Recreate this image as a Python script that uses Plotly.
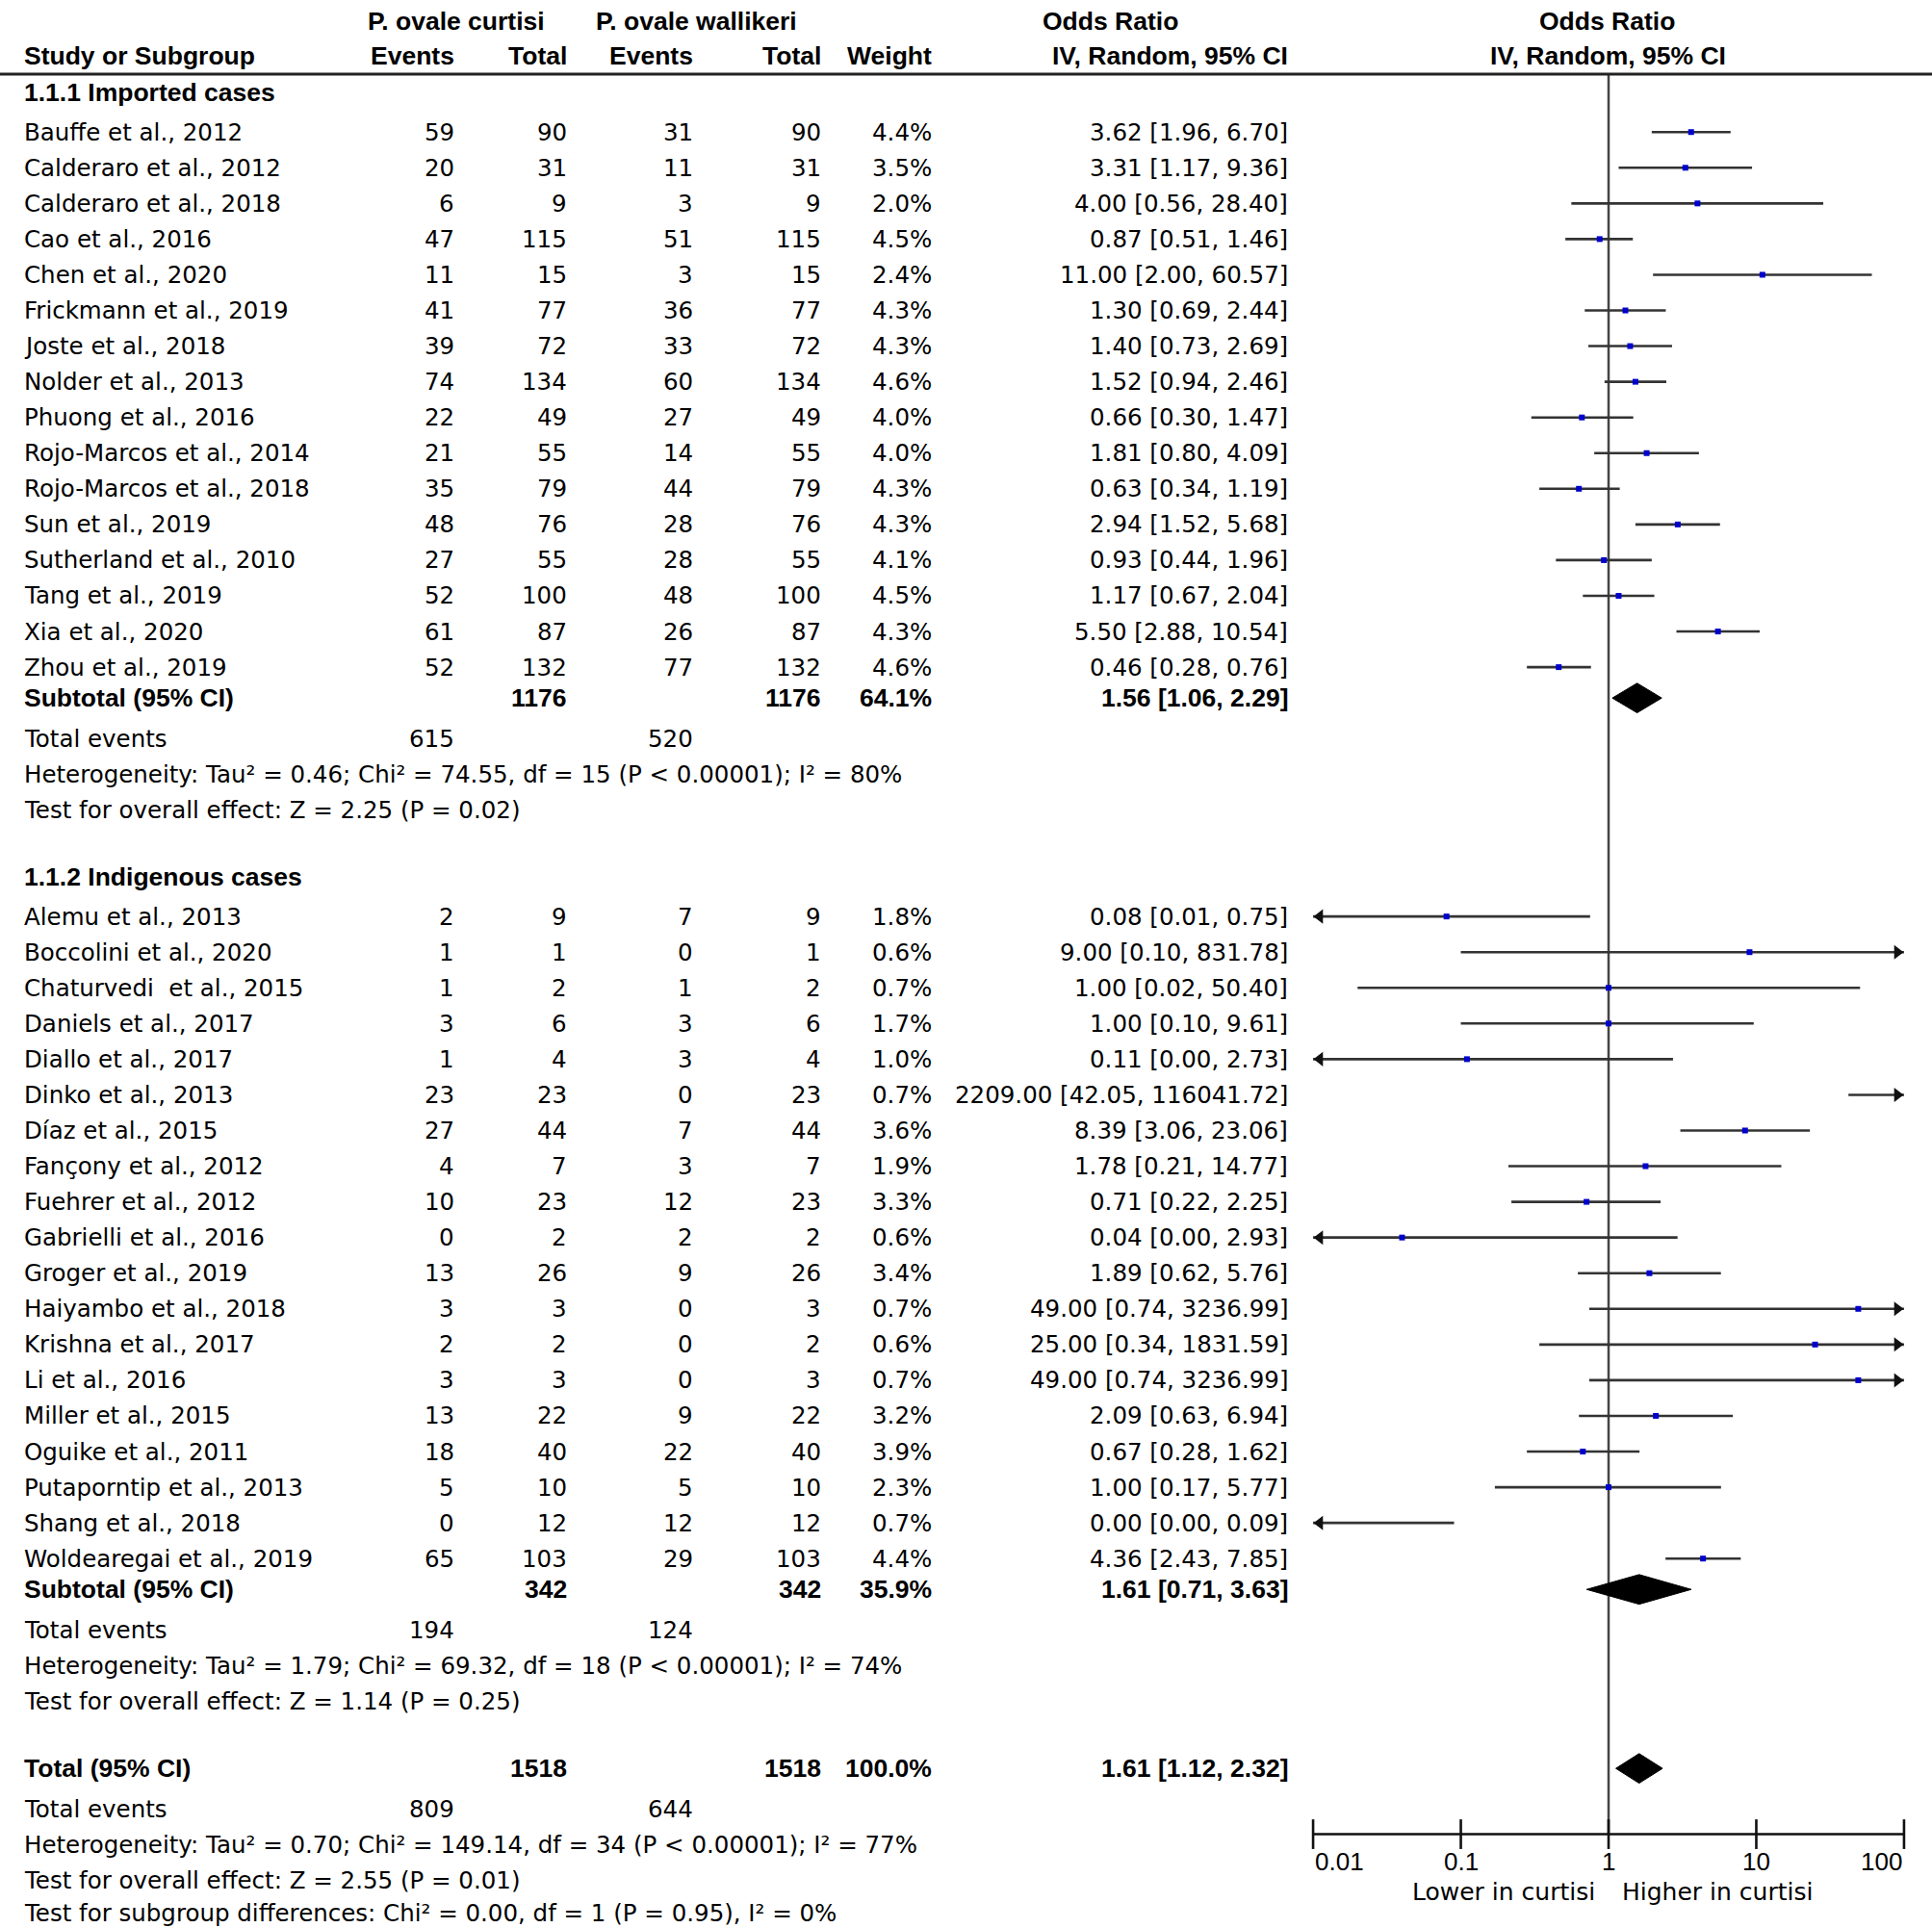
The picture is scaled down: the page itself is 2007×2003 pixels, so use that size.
import plotly.graph_objects as go
import math

# ---------------- data ----------------
studies1 = ["Bauffe et al., 2012", "Calderaro et al., 2012", "Calderaro et al., 2018", "Cao et al., 2016",
            "Chen et al., 2020", "Frickmann et al., 2019", "Joste et al., 2018", "Nolder et al., 2013",
            "Phuong et al., 2016", "Rojo-Marcos et al., 2014", "Rojo-Marcos et al., 2018", "Sun et al., 2019",
            "Sutherland et al., 2010", "Tang et al., 2019", "Xia et al., 2020", "Zhou et al., 2019"]
ev_c1 = [59, 20, 6, 47, 11, 41, 39, 74, 22, 21, 35, 48, 27, 52, 61, 52]
tot_c1 = [90, 31, 9, 115, 15, 77, 72, 134, 49, 55, 79, 76, 55, 100, 87, 132]
ev_w1 = [31, 11, 3, 51, 3, 36, 33, 60, 27, 14, 44, 28, 28, 48, 26, 77]
tot_w1 = [90, 31, 9, 115, 15, 77, 72, 134, 49, 55, 79, 76, 55, 100, 87, 132]
weight1 = [4.4, 3.5, 2.0, 4.5, 2.4, 4.3, 4.3, 4.6, 4.0, 4.0, 4.3, 4.3, 4.1, 4.5, 4.3, 4.6]
or1 = [3.62, 3.31, 4.00, 0.87, 11.00, 1.30, 1.40, 1.52, 0.66, 1.81, 0.63, 2.94, 0.93, 1.17, 5.50, 0.46]
lo1 = [1.96, 1.17, 0.56, 0.51, 2.00, 0.69, 0.73, 0.94, 0.30, 0.80, 0.34, 1.52, 0.44, 0.67, 2.88, 0.28]
hi1 = [6.70, 9.36, 28.40, 1.46, 60.57, 2.44, 2.69, 2.46, 1.47, 4.09, 1.19, 5.68, 1.96, 2.04, 10.54, 0.76]

studies2 = ["Alemu et al., 2013", "Boccolini et al., 2020", "Chaturvedi\u00a0 et al., 2015", "Daniels et al., 2017",
            "Diallo et al., 2017", "Dinko et al., 2013", "Díaz et al., 2015", "Fançony et al., 2012",
            "Fuehrer et al., 2012", "Gabrielli et al., 2016", "Groger et al., 2019", "Haiyambo et al., 2018",
            "Krishna et al., 2017", "Li et al., 2016", "Miller et al., 2015", "Oguike et al., 2011",
            "Putaporntip et al., 2013", "Shang et al., 2018", "Woldearegai et al., 2019"]
ev_c2 = [2, 1, 1, 3, 1, 23, 27, 4, 10, 0, 13, 3, 2, 3, 13, 18, 5, 0, 65]
tot_c2 = [9, 1, 2, 6, 4, 23, 44, 7, 23, 2, 26, 3, 2, 3, 22, 40, 10, 12, 103]
ev_w2 = [7, 0, 1, 3, 3, 0, 7, 3, 12, 2, 9, 0, 0, 0, 9, 22, 5, 12, 29]
tot_w2 = [9, 1, 2, 6, 4, 23, 44, 7, 23, 2, 26, 3, 2, 3, 22, 40, 10, 12, 103]
weight2 = [1.8, 0.6, 0.7, 1.7, 1.0, 0.7, 3.6, 1.9, 3.3, 0.6, 3.4, 0.7, 0.6, 0.7, 3.2, 3.9, 2.3, 0.7, 4.4]
or2 = [0.08, 9.00, 1.00, 1.00, 0.11, 2209.00, 8.39, 1.78, 0.71, 0.04, 1.89, 49.00, 25.00, 49.00, 2.09, 0.67, 1.00, 0.00, 4.36]
lo2 = [0.01, 0.10, 0.02, 0.10, 0.00, 42.05, 3.06, 0.21, 0.22, 0.00, 0.62, 0.74, 0.34, 0.74, 0.63, 0.28, 0.17, 0.00, 2.43]
hi2 = [0.75, 831.78, 50.40, 9.61, 2.73, 116041.72, 23.06, 14.77, 2.25, 2.93, 5.76, 3236.99, 1831.59, 3236.99, 6.94, 1.62, 5.77, 0.09, 7.85]

sub1 = dict(tot_c=1176, tot_w=1176, weight=64.1, orv=1.56, lo=1.06, hi=2.29, ev_c=615, ev_w=520,
            het="Heterogeneity: Tau² = 0.46; Chi² = 74.55, df = 15 (P < 0.00001); I² = 80%",
            test="Test for overall effect: Z = 2.25 (P = 0.02)")
sub2 = dict(tot_c=342, tot_w=342, weight=35.9, orv=1.61, lo=0.71, hi=3.63, ev_c=194, ev_w=124,
            het="Heterogeneity: Tau² = 1.79; Chi² = 69.32, df = 18 (P < 0.00001); I² = 74%",
            test="Test for overall effect: Z = 1.14 (P = 0.25)")
total = dict(tot_c=1518, tot_w=1518, weight=100.0, orv=1.61, lo=1.12, hi=2.32, ev_c=809, ev_w=644,
             het="Heterogeneity: Tau² = 0.70; Chi² = 149.14, df = 34 (P < 0.00001); I² = 77%",
             test="Test for overall effect: Z = 2.55 (P = 0.01)",
             subgroup="Test for subgroup differences: Chi² = 0.00, df = 1 (P = 0.95), I² = 0%")

group_titles = ["1.1.1 Imported cases", "1.1.2 Indigenous cases"]
tick_vals = [0.01, 0.1, 1, 10, 100]
tick_text = ["0.01", "0.1", "1", "10", "100"]
favours = ["Lower in curtisi", "Higher in curtisi"]

# ---------------- layout geometry (display units) ----------------
W_U, H_U = 1568.0, 1562.0
X_NAME, X_EVC, X_TOTC, X_EVW, X_TOTW, X_WT, X_CI = 18, 370, 462, 564, 668, 758, 1047
X_ONE, DEC = 1305.5, 119.9         # position of OR = 1 and width of one decade
D0 = 0.62
STEP = 28.9
REG = "DejaVu Sans"
BOLD = "Liberation Sans"
FS_REG = 24.5
FS_BOLD = 26.5

ann = []


def txt(x, y, s, anchor="left", bold=False, size=None, fam=None, xref="x"):
    if bold:
        s = "<b>" + s + "</b>"
    ann.append(dict(x=x, y=y, xref=xref, yref="y", text=s, showarrow=False,
                    xanchor=anchor, yanchor="middle",
                    font=dict(family=fam or (BOLD if bold else REG),
                              size=size or (FS_BOLD if bold else FS_REG), color="#000")))


def fmt_ci(o, l, h):
    return f"{o:.2f} [{l:.2f}, {h:.2f}]"


# headers
yh1, yh2, yline = 17, 45, 60
txt(370, yh1, "P. ovale curtisi", "center", True)
txt(565, yh1, "P. ovale wallikeri", "center", True)
txt(901, yh1, "Odds Ratio", "center", True)
txt(1304, yh1, "Odds Ratio", "center", True)
txt(X_NAME, yh2, "Study or Subgroup", "left", True)
txt(X_EVC, yh2, "Events", "right", True)
txt(X_TOTC, yh2, "Total", "right", True)
txt(X_EVW, yh2, "Events", "right", True)
txt(X_TOTW, yh2, "Total", "right", True)
txt(X_WT, yh2, "Weight", "right", True)
txt(X_CI, yh2, "IV, Random, 95% CI", "right", True)
txt(1305, yh2, "IV, Random, 95% CI", "center", True)

ci_x, ci_y = [], []
mk_x, mk_y = [], []
al_x, al_y, ar_x, ar_y = [], [], [], []
dia = []

ARROW_OFF = (7 / 1.28) / DEC   # half-size of arrowhead in decades


def study_rows(y0, names, ec, tc, ew, tw, wt, o, l, h):
    y = y0
    for i in range(len(names)):
        txt(X_NAME, y, names[i])
        txt(X_EVC, y, str(ec[i]), "right")
        txt(X_TOTC, y, str(tc[i]), "right")
        txt(X_EVW, y, str(ew[i]), "right")
        txt(X_TOTW, y, str(tw[i]), "right")
        txt(X_WT, y, f"{wt[i]:.1f}%", "right")
        txt(X_CI, y, fmt_ci(o[i], l[i], h[i]), "right")
        a = max(l[i], 0.01)
        b = min(h[i], 100)
        if a < b:
            ci_x.extend([a, b, None])
            ci_y.extend([y, y, None])
        if l[i] <= 0.01:
            al_x.append(10 ** (-2 + ARROW_OFF)); al_y.append(y)
        if h[i] > 100:
            ar_x.append(10 ** (2 - ARROW_OFF)); ar_y.append(y)
        if 0.01 <= o[i] <= 100:
            mk_x.append(o[i]); mk_y.append(y)
        if i < len(names) - 1:
            y += STEP
    return y


def summary_block(y, d, label, extra=None):
    txt(X_NAME, y, label, "left", True)
    txt(X_TOTC, y, str(d["tot_c"]), "right", True)
    txt(X_TOTW, y, str(d["tot_w"]), "right", True)
    txt(X_WT, y, f"{d['weight']:.1f}%", "right", True)
    txt(X_CI, y, fmt_ci(d["orv"], d["lo"], d["hi"]), "right", True)
    dia.append((y, d["orv"], d["lo"], d["hi"]))
    y += 33
    txt(X_NAME, y, "Total events")
    txt(X_EVC, y, str(d["ev_c"]), "right")
    txt(X_EVW, y, str(d["ev_w"]), "right")
    y += 29
    txt(X_NAME, y, d["het"])
    y += 29
    txt(X_NAME, y, d["test"])
    if extra:
        y += 26
        txt(X_NAME, y, extra)
    return y


y = 75
txt(X_NAME, y, group_titles[0], "left", True)
y = study_rows(y + 32, studies1, ev_c1, tot_c1, ev_w1, tot_w1, weight1, or1, lo1, hi1)
y = summary_block(y + 25, sub1, "Subtotal (95% CI)")
y += 54
txt(X_NAME, y, group_titles[1], "left", True)
y = study_rows(y + 32, studies2, ev_c2, tot_c2, ev_w2, tot_w2, weight2, or2, lo2, hi2)
y = summary_block(y + 25, sub2, "Subtotal (95% CI)")
y += 54
summary_block(y, total, "Total (95% CI)", total["subgroup"])

Y_AXIS = 1486
LINE_C = "#333333"

fig = go.Figure()
# vertical line of no effect
fig.add_trace(go.Scatter(x=[1, 1], y=[yline, Y_AXIS], mode="lines", xaxis="x2", yaxis="y",
                         line=dict(color="#444444", width=2.5), hoverinfo="skip"))
# CI lines
fig.add_trace(go.Scatter(x=ci_x, y=ci_y, mode="lines", xaxis="x2", yaxis="y",
                         line=dict(color=LINE_C, width=2.6), hoverinfo="skip", cliponaxis=False))
fig.add_trace(go.Scatter(x=al_x, y=al_y, mode="markers", xaxis="x2", yaxis="y", cliponaxis=False,
                         marker=dict(symbol="triangle-left", size=13, color="#111", line=dict(width=0))))
fig.add_trace(go.Scatter(x=ar_x, y=ar_y, mode="markers", xaxis="x2", yaxis="y", cliponaxis=False,
                         marker=dict(symbol="triangle-right", size=13, color="#111", line=dict(width=0))))
# point estimates
fig.add_trace(go.Scatter(x=mk_x, y=mk_y, mode="markers", xaxis="x2", yaxis="y", cliponaxis=False,
                         marker=dict(symbol="square", size=6, color="#0000CC", line=dict(width=0))))
# diamonds
for (yc, o, l, h) in dia:
    fig.add_trace(go.Scatter(x=[l, o, h, o, l], y=[yc, yc - 12, yc, yc + 12, yc], mode="lines",
                             fill="toself", fillcolor="#000", xaxis="x2", yaxis="y",
                             line=dict(color="#000", width=1), hoverinfo="skip"))
# axis line + crossing ticks
fig.add_trace(go.Scatter(x=[tick_vals[0], tick_vals[-1]], y=[Y_AXIS, Y_AXIS], mode="lines",
                         xaxis="x2", yaxis="y", line=dict(color="#111", width=2.6), hoverinfo="skip",
                         cliponaxis=False))
fig.add_trace(go.Scatter(x=tick_vals, y=[Y_AXIS] * len(tick_vals), mode="markers", xaxis="x2", yaxis="y",
                         cliponaxis=False,
                         marker=dict(symbol="line-ns", size=22, color="#111", line=dict(color="#111", width=2.6))))
anchors = ["left"] + ["center"] * (len(tick_vals) - 2) + ["right"]
for v, t, a in zip(tick_vals, tick_text, anchors):
    ann.append(dict(x=math.log10(v), y=1508, xref="x2", yref="y", text=t, showarrow=False,
                    xanchor=a, yanchor="middle", font=dict(family="Liberation Sans", size=26, color="#000")))
txt(1296, 1533, favours[0], "right", size=25, fam=REG)
txt(1315, 1533, favours[1], "left", size=25, fam=REG)

# header rule
shapes = [dict(type="line", xref="paper", yref="y", x0=0, x1=1, y0=yline, y1=yline,
               line=dict(color="#222", width=3))]

fig.update_layout(
    width=2007, height=2003, margin=dict(l=0, r=0, t=0, b=0),
    paper_bgcolor="white", plot_bgcolor="white", showlegend=False,
    xaxis=dict(range=[0, W_U], visible=False, domain=[0, 1], fixedrange=True),
    xaxis2=dict(type="log", domain=[D0, 1], anchor="y", visible=False,
                range=[(D0 * W_U - X_ONE) / DEC, (W_U - X_ONE) / DEC]),
    yaxis=dict(range=[H_U, 0], visible=False, domain=[0, 1], anchor="x"),
    annotations=ann, shapes=shapes,
)
fig.write_html("out.html", config={"displayModeBar": False},
               post_script="document.body.style.margin='0px';document.body.style.padding='0px';"
                           "document.body.style.overflow='hidden';")
